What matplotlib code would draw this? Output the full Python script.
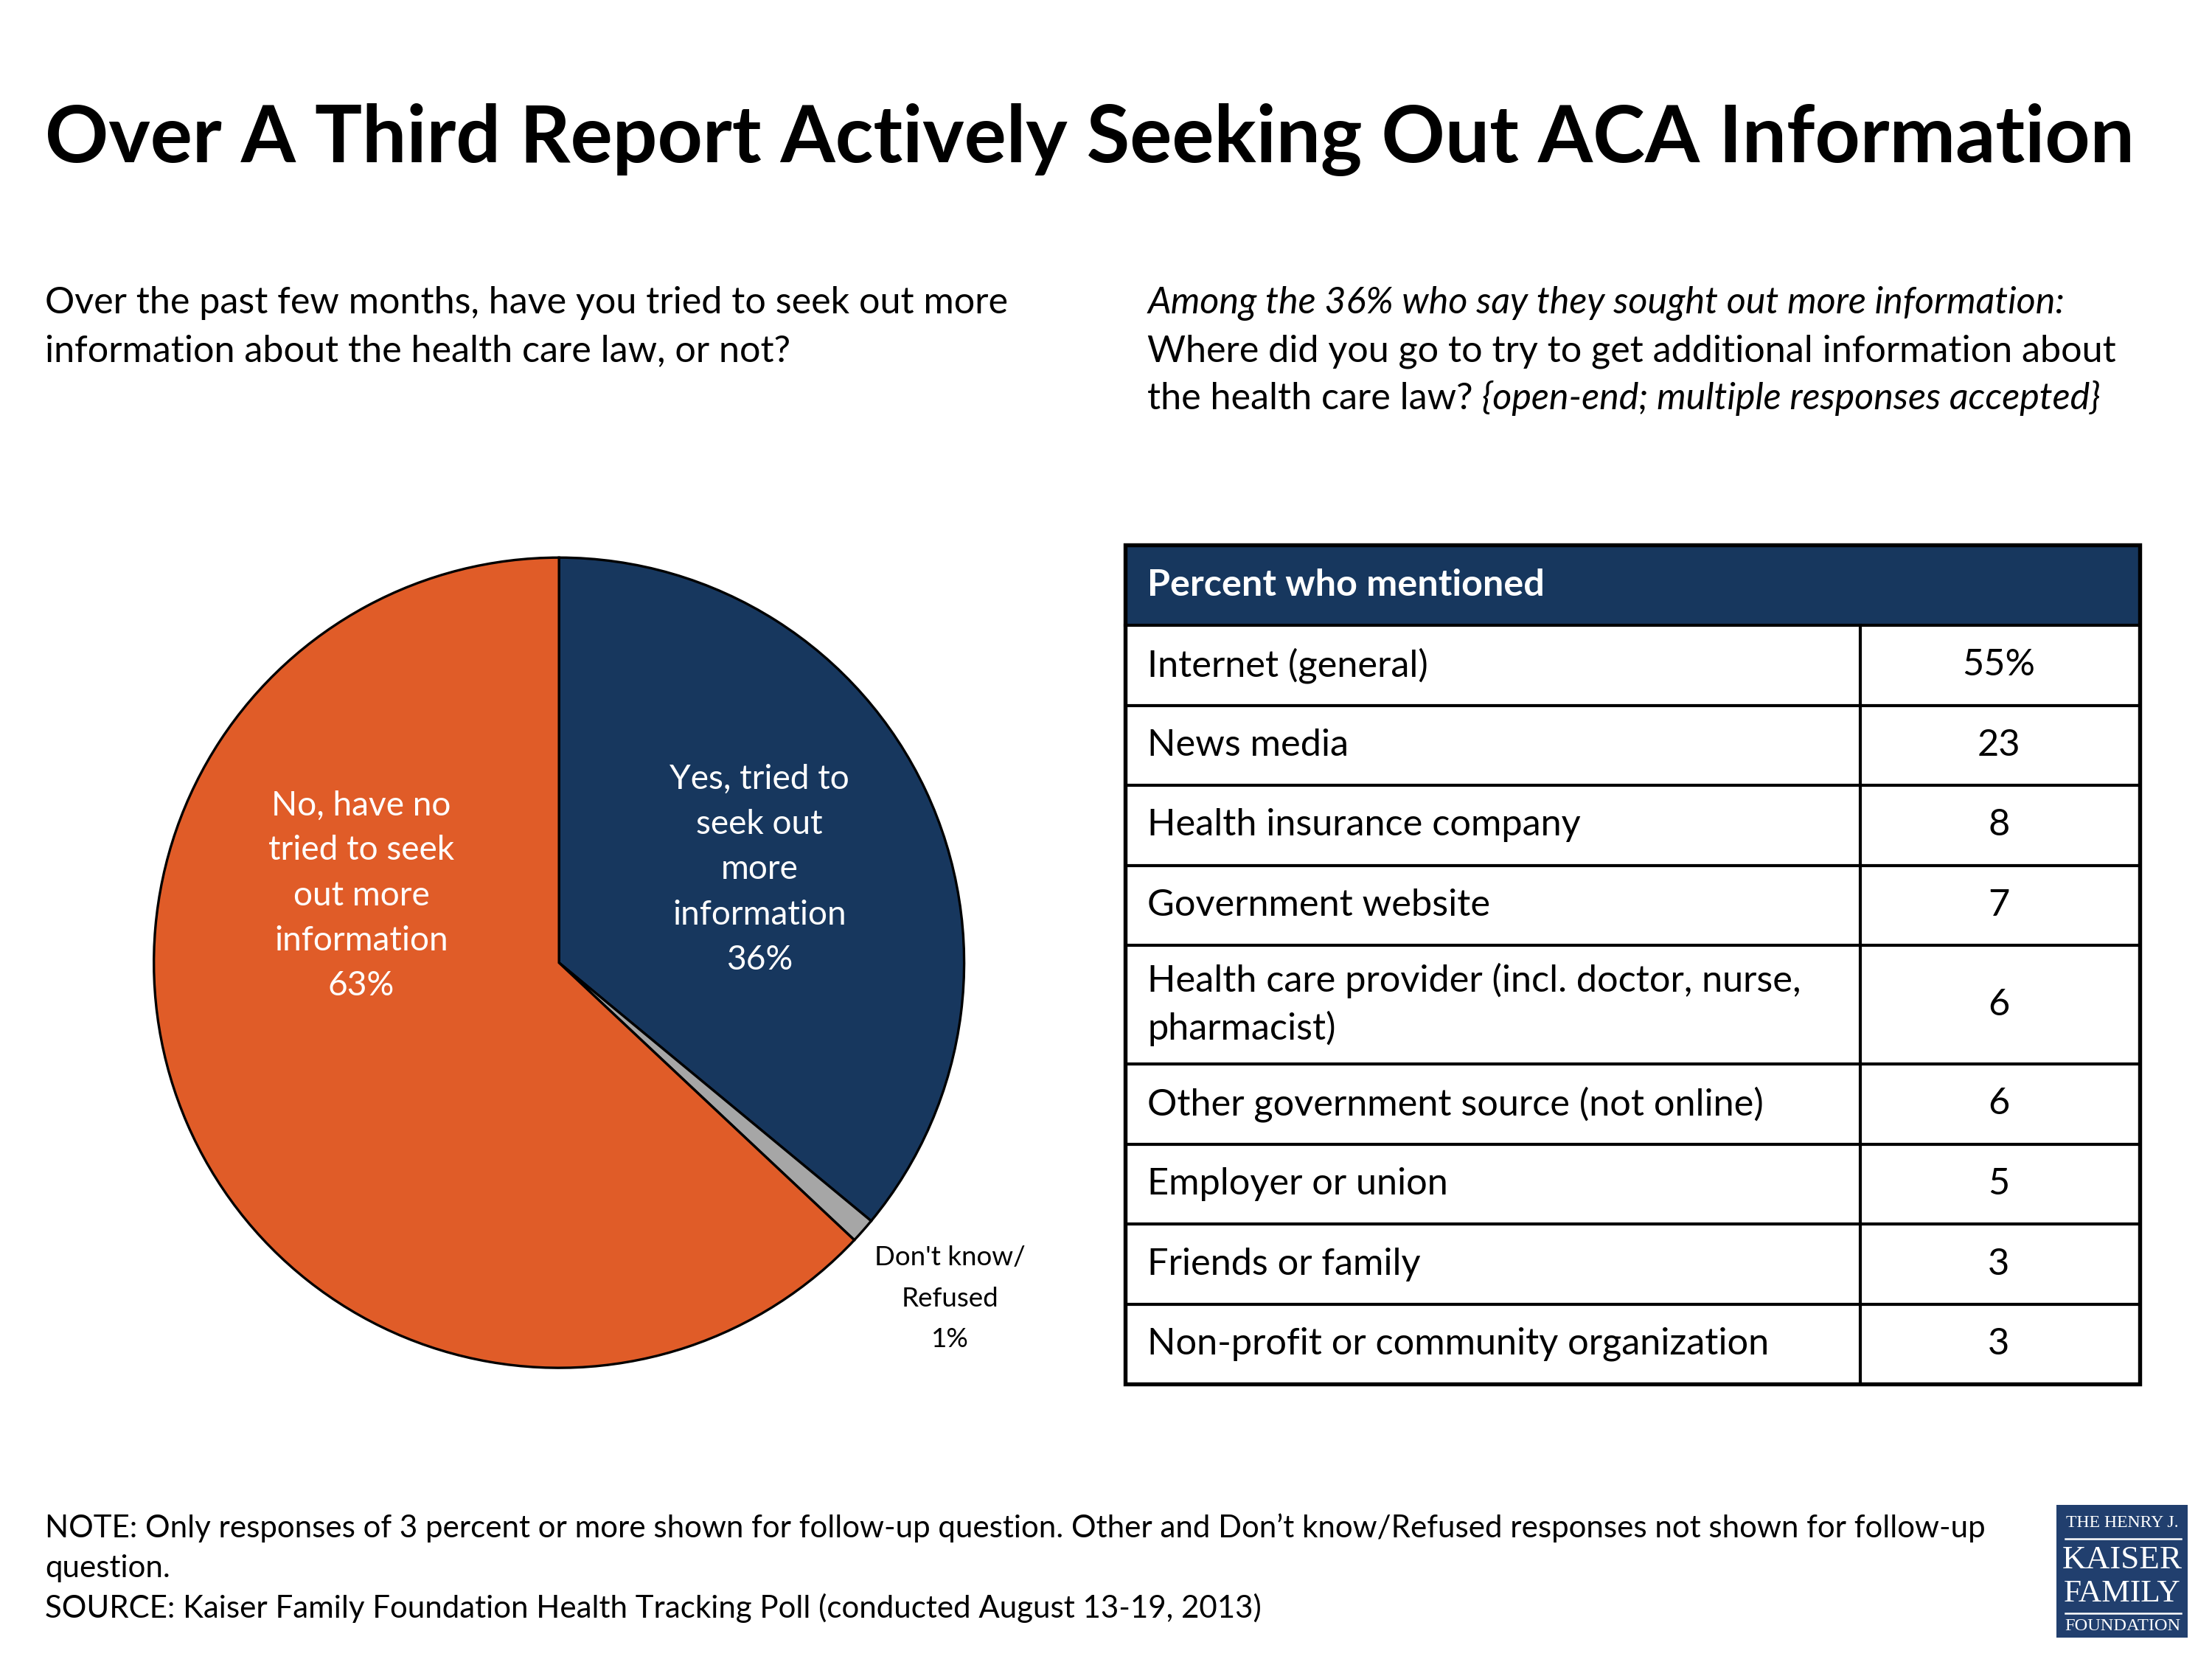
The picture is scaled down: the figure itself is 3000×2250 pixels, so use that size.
import matplotlib
matplotlib.use('Agg')
import matplotlib.pyplot as plt
from matplotlib.patches import Rectangle

plt.rcParams['font.family'] = ['Lato', 'DejaVu Sans']

# data
title = "Over A Third Report Actively Seeking Out ACA Information"
pie_labels = ["Yes, tried to\nseek out\nmore\ninformation", "Don't know/\nRefused",
              "No, have no\ntried to seek\nout more\ninformation"]
pie_values = [36, 1, 63]
pie_colors = ['#17375E', '#A6A6A6', '#E05C28']

sources = ["Internet (general)", "News media", "Health insurance company",
           "Government website", "Health care provider (incl. doctor, nurse,\npharmacist)",
           "Other government source (not online)", "Employer or union",
           "Friends or family", "Non-profit or community organization"]
mentions = [55, 23, 8, 7, 6, 6, 5, 3, 3]

left_q = ["Over the past few months, have you tried to seek out more",
          "information about the health care law, or not?"]
right_q = ["Among the 36% who say they sought out more information:",
           "Where did you go to try to get additional information about",
           "the health care law?"]
right_q_tail = "{open-end; multiple responses accepted}"
notes = ["NOTE: Only responses of 3 percent or more shown for follow-up question. Other and Don\u2019t know/Refused responses not shown for follow-up",
         "question.",
         "SOURCE: Kaiser Family Foundation Health Tracking Poll (conducted August 13-19, 2013)"]

# layout units follow the reference as seen at 1567 px wide
W, H = 1567, 1175.25
S = 3000 / W
navy = '#17375E'

fig = plt.figure(figsize=(10, 7.5), dpi=300)
ax = fig.add_axes([0, 0, 1, 1])
ax.set_xlim(0, W)
ax.set_ylim(H, 0)
ax.axis('off')
ax.set_zorder(2)
rend = fig.canvas.get_renderer()


def size_for(s, width, **kw):
    t = ax.text(0, 0, s, fontsize=10, **kw)
    bb = t.get_window_extent(renderer=rend)
    t.remove()
    return 10 * width * S / bb.width


def lines_at(x, yc, lines, step, **kw):
    y0 = yc - step * (len(lines) - 1) / 2
    for i, s in enumerate(lines):
        ax.text(x, y0 + i * step, s, va='center', **kw)


# title
fs = size_for(title, 1480, weight='bold')
ax.text(32, 115, title, fontsize=fs, weight='bold', va='baseline')

# questions
fq = size_for(right_q[1], 686)
for i, s in enumerate(left_q):
    ax.text(32, 222 + 34 * i, s, fontsize=fq, va='baseline')
ax.text(813, 222, right_q[0], fontsize=fq, style='italic', va='baseline')
ax.text(813, 256, right_q[1], fontsize=fq, va='baseline')
t = ax.text(813, 290, right_q[2], fontsize=fq, va='baseline')
xe = 813 + t.get_window_extent(renderer=rend).width / S
ax.text(xe + 6, 290, right_q_tail, fontsize=fq, style='italic', va='baseline')

# pie
cx, cy, r = 396, 682, 287
pad = 1.05
pax = fig.add_axes([(cx - r * pad) / W, 1 - (cy + r * pad) / H, 2 * pad * r / W, 2 * pad * r / H])
pax.pie(pie_values, colors=pie_colors, startangle=90, counterclock=False, radius=1,
        wedgeprops=dict(edgecolor='black', linewidth=0.8))
pax.set_xlim(-pad, pad)
pax.set_ylim(-pad, pad)
pax.set_aspect('equal')

fp = size_for("information", 123)
lines_at(538, 616, pie_labels[0].split('\n') + ['%d%%' % pie_values[0]], 32,
         fontsize=fp, color='white', ha='center')
lines_at(256, 634.5, pie_labels[2].split('\n') + ['%d%%' % pie_values[2]], 32,
         fontsize=fp, color='white', ha='center')
fd = size_for("Don't know/", 107)
lines_at(673, 920, pie_labels[1].split('\n') + ['%d%%' % pie_values[1]], 29,
         fontsize=fd, color='black', ha='center')

# table
x0, x1, xm = 797, 1516, 1318
top, head_h, row_h, row2_h = 386, 57, 56.7, 84
ax.add_patch(Rectangle((x0, top), x1 - x0, head_h, facecolor=navy, edgecolor='none'))
fh = size_for("Percent who mentioned", 281, weight='bold')
ax.text(813, top + head_h / 2, "Percent who mentioned", fontsize=fh, weight='bold',
        color='white', va='center')
ft = size_for(sources[4].split('\n')[0], 463)
y = top + head_h
for i, (lab, val) in enumerate(zip(sources, mentions)):
    h = row2_h if '\n' in lab else row_h
    lines_at(813, y + h / 2, lab.split('\n'), 34, fontsize=ft)
    ax.text(1416, y + h / 2, '%d%%' % val if i == 0 else str(val), fontsize=ft,
            ha='center', va='center')
    y += h
    if i < len(sources) - 1:
        ax.plot([x0, x1], [y, y], color='black', lw=1.0, solid_capstyle='butt')
ax.plot([x0, x1], [top + head_h, top + head_h], color='black', lw=1.0)
ax.plot([xm, xm], [top + head_h, y], color='black', lw=1.0)
ax.add_patch(Rectangle((x0, top), x1 - x0, y - top, facecolor='none', edgecolor='black', lw=1.3))

# notes
fn = size_for(notes[0], 1373)
for i, s in enumerate(notes):
    ax.text(32, 1089 + 28.5 * i, s, fontsize=fn, va='baseline')

# logo
lx0, lx1, ly0, ly1 = 1457, 1550, 1066, 1160
ax.add_patch(Rectangle((lx0, ly0), lx1 - lx0, ly1 - ly0, facecolor='#213F6E', edgecolor='none'))
serif = ['Liberation Serif', 'DejaVu Serif']
for s, yy, w in [("THE HENRY J.", 1079, 80), ("KAISER", 1105, 85),
                 ("FAMILY", 1129, 83), ("FOUNDATION", 1152, 82)]:
    f = size_for(s, w, family=serif)
    ax.text((lx0 + lx1) / 2, yy, s, fontsize=f, family=serif, color='white',
            ha='center', va='center')
for yy in [1090, 1143]:
    ax.plot([1463, 1545], [yy, yy], color='white', lw=0.6)

fig.savefig('out.png', dpi=300)
